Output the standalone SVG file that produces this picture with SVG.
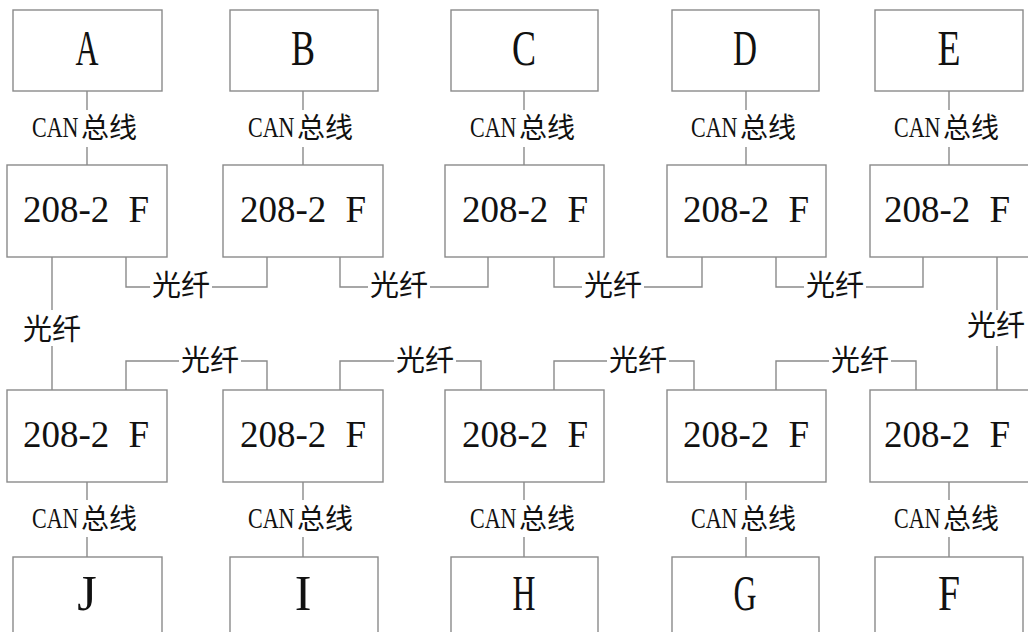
<svg xmlns="http://www.w3.org/2000/svg" width="1028" height="632" viewBox="0 0 1028 632">
<style>
.box{fill:#fff;stroke:#8a8a8a;stroke-width:1.4}
.ln{fill:none;stroke:#8a8a8a;stroke-width:1.4}
.bg{fill:#fff;stroke:none}
.big{font-family:'Liberation Serif',serif;font-size:50px;fill:#111;text-anchor:middle}
.mod{font-family:'Liberation Serif',serif;font-size:37px;fill:#111;text-anchor:middle}
.can{font-family:'Liberation Serif',serif;font-size:29px;fill:#111}
.cjk{font-family:'Noto Sans CJK SC',sans-serif;font-size:28px;fill:#111}
.fib{font-family:'Noto Sans CJK SC',sans-serif;font-size:29px;fill:#111;text-anchor:middle}
</style>
<rect width="1028" height="632" fill="#fff"/>
<g id="connectors">
  <path class="ln" d="M87 91V165M303 91V165M524 91V165M746 91V165M949 91V165"/>
  <path class="ln" d="M87 482V557M303 482V557M524 482V557M746 482V557M949 482V557"/>
  <path class="ln" d="M52 257V390M997 257V390"/>
  <path class="ln" d="M126 257V287H267V257M340 257V287H488V257M554 257V287H702V257M776 257V287H923V257"/>
  <path class="ln" d="M126 390V361H267V390M340 390V361H481V390M554 390V361H694V390M776 390V361H916V390"/>
  <g id="can-labels">
    <rect class="bg" x="31" y="110" width="110" height="37"/>
    <rect class="bg" x="247" y="110" width="110" height="37"/>
    <rect class="bg" x="468" y="110" width="110" height="37"/>
    <rect class="bg" x="690" y="110" width="110" height="37"/>
    <rect class="bg" x="893" y="110" width="110" height="37"/>
    <rect class="bg" x="31" y="500" width="110" height="37"/>
    <rect class="bg" x="247" y="500" width="110" height="37"/>
    <rect class="bg" x="468" y="500" width="110" height="37"/>
    <rect class="bg" x="690" y="500" width="110" height="37"/>
    <rect class="bg" x="893" y="500" width="110" height="37"/>
    <text class="can" transform="translate(32 137) scale(0.76 1)">CAN</text><text class="cjk" x="81" y="138">总线</text>
    <text class="can" transform="translate(248 137) scale(0.76 1)">CAN</text><text class="cjk" x="297" y="138">总线</text>
    <text class="can" transform="translate(470 137) scale(0.76 1)">CAN</text><text class="cjk" x="519" y="138">总线</text>
    <text class="can" transform="translate(691 137) scale(0.76 1)">CAN</text><text class="cjk" x="740" y="138">总线</text>
    <text class="can" transform="translate(894 137) scale(0.76 1)">CAN</text><text class="cjk" x="943" y="138">总线</text>
    <text class="can" transform="translate(32 528) scale(0.76 1)">CAN</text><text class="cjk" x="81" y="529">总线</text>
    <text class="can" transform="translate(248 528) scale(0.76 1)">CAN</text><text class="cjk" x="297" y="529">总线</text>
    <text class="can" transform="translate(470 528) scale(0.76 1)">CAN</text><text class="cjk" x="519" y="529">总线</text>
    <text class="can" transform="translate(691 528) scale(0.76 1)">CAN</text><text class="cjk" x="740" y="529">总线</text>
    <text class="can" transform="translate(894 528) scale(0.76 1)">CAN</text><text class="cjk" x="943" y="529">总线</text>
  </g>
  <g id="fiber-labels">
    <rect class="bg" x="150" y="270" width="62" height="32"/>
    <rect class="bg" x="368" y="270" width="62" height="32"/>
    <rect class="bg" x="582" y="270" width="62" height="32"/>
    <rect class="bg" x="804" y="270" width="62" height="32"/>
    <rect class="bg" x="179" y="345" width="62" height="32"/>
    <rect class="bg" x="394" y="345" width="62" height="32"/>
    <rect class="bg" x="607" y="345" width="62" height="32"/>
    <rect class="bg" x="829" y="345" width="62" height="32"/>
    <rect class="bg" x="21" y="310" width="62" height="36"/>
    <rect class="bg" x="966" y="310" width="62" height="36"/>
    <text class="fib" x="181" y="296">光纤</text>
    <text class="fib" x="399" y="296">光纤</text>
    <text class="fib" x="613" y="296">光纤</text>
    <text class="fib" x="835" y="296">光纤</text>
    <text class="fib" x="210" y="371">光纤</text>
    <text class="fib" x="425" y="371">光纤</text>
    <text class="fib" x="638" y="371">光纤</text>
    <text class="fib" x="860" y="371">光纤</text>
    <text class="fib" x="52" y="340">光纤</text>
    <text class="fib" x="996" y="336">光纤</text>
  </g>
</g>
<g id="node-A"><rect class="box" x="13" y="10" width="149" height="81"/><text class="big" x="87" y="65" textLength="23" lengthAdjust="spacingAndGlyphs">A</text></g>
<g id="node-B"><rect class="box" x="230" y="10" width="148" height="81"/><text class="big" x="303" y="65" textLength="24" lengthAdjust="spacingAndGlyphs">B</text></g>
<g id="node-C"><rect class="box" x="451" y="10" width="147" height="81"/><text class="big" x="524" y="65" textLength="24" lengthAdjust="spacingAndGlyphs">C</text></g>
<g id="node-D"><rect class="box" x="672" y="10" width="147" height="81"/><text class="big" x="745" y="65" textLength="24" lengthAdjust="spacingAndGlyphs">D</text></g>
<g id="node-E"><rect class="box" x="875" y="10" width="148" height="81"/><text class="big" x="949" y="65" textLength="23" lengthAdjust="spacingAndGlyphs">E</text></g>
<g id="node-F1"><rect class="box" x="7" y="165" width="160" height="92"/><text class="mod" x="86" y="222">208-2<tspan dx="10"> F</tspan></text></g>
<g id="node-F2"><rect class="box" x="223" y="165" width="160" height="92"/><text class="mod" x="303" y="222">208-2<tspan dx="10"> F</tspan></text></g>
<g id="node-F3"><rect class="box" x="445" y="165" width="159" height="92"/><text class="mod" x="525" y="222">208-2<tspan dx="10"> F</tspan></text></g>
<g id="node-F4"><rect class="box" x="667" y="165" width="159" height="92"/><text class="mod" x="746" y="222">208-2<tspan dx="10"> F</tspan></text></g>
<g id="node-F5"><rect class="box" x="870" y="165" width="170" height="92"/><text class="mod" x="947" y="222">208-2<tspan dx="10"> F</tspan></text></g>
<g id="node-F6"><rect class="box" x="7" y="390" width="160" height="92"/><text class="mod" x="86" y="447">208-2<tspan dx="10"> F</tspan></text></g>
<g id="node-F7"><rect class="box" x="223" y="390" width="160" height="92"/><text class="mod" x="303" y="447">208-2<tspan dx="10"> F</tspan></text></g>
<g id="node-F8"><rect class="box" x="445" y="390" width="159" height="92"/><text class="mod" x="525" y="447">208-2<tspan dx="10"> F</tspan></text></g>
<g id="node-F9"><rect class="box" x="667" y="390" width="159" height="92"/><text class="mod" x="746" y="447">208-2<tspan dx="10"> F</tspan></text></g>
<g id="node-F10"><rect class="box" x="870" y="390" width="170" height="92"/><text class="mod" x="947" y="447">208-2<tspan dx="10"> F</tspan></text></g>
<g id="node-J"><rect class="box" x="13" y="557" width="149" height="100"/><text class="big" x="87" y="610">J</text></g>
<g id="node-I"><rect class="box" x="230" y="557" width="148" height="100"/><text class="big" x="303" y="610">I</text></g>
<g id="node-H"><rect class="box" x="451" y="557" width="147" height="100"/><text class="big" x="524" y="610" textLength="23" lengthAdjust="spacingAndGlyphs">H</text></g>
<g id="node-G"><rect class="box" x="672" y="557" width="147" height="100"/><text class="big" x="745" y="610" textLength="23" lengthAdjust="spacingAndGlyphs">G</text></g>
<g id="node-F"><rect class="box" x="875" y="557" width="148" height="100"/><text class="big" x="949" y="610" textLength="22" lengthAdjust="spacingAndGlyphs">F</text></g>
</svg>
